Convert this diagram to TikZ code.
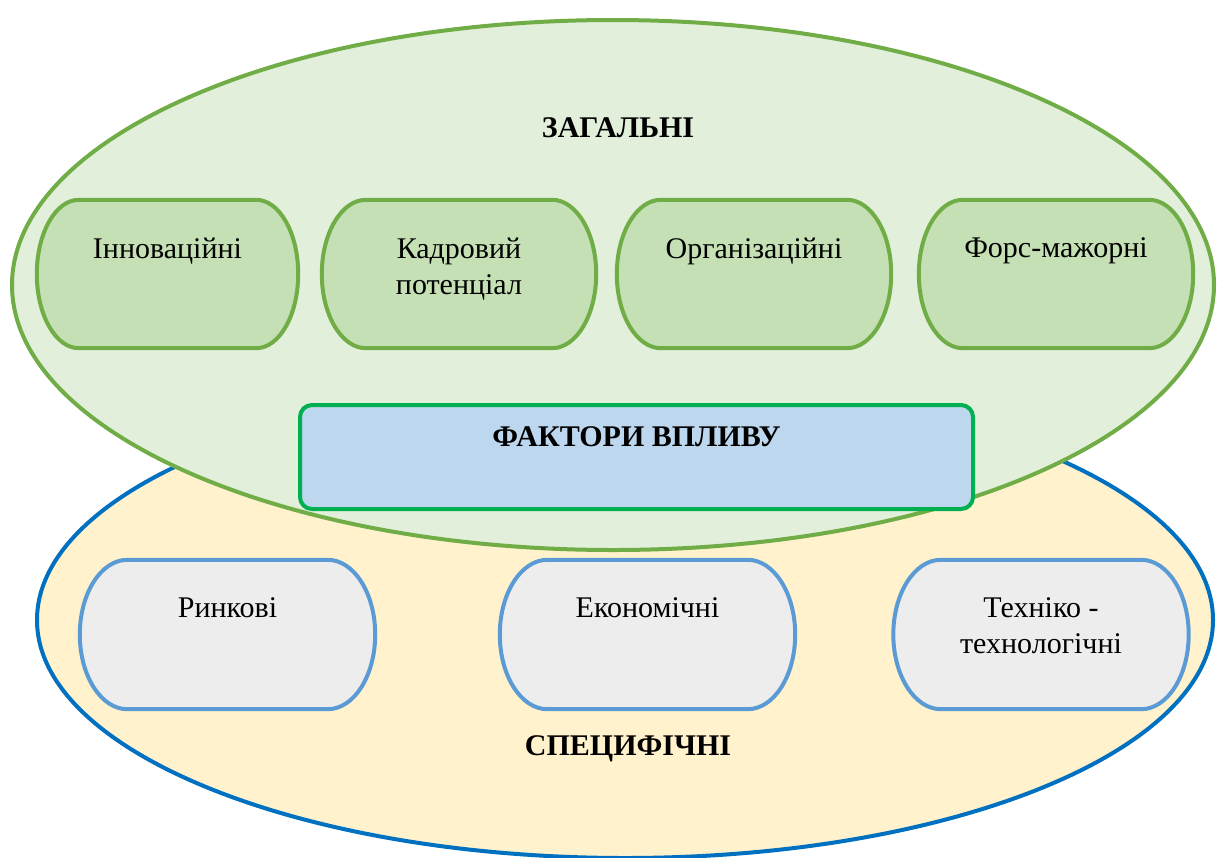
\documentclass[tikz,border=0pt]{standalone}
\usepackage{fontspec}
\setmainfont{Liberation Serif}
\usetikzlibrary{positioning,calc}
\definecolor{zahfill}{HTML}{E2EFDA}
\definecolor{zahline}{HTML}{70AD47}
\definecolor{zahboxfill}{HTML}{C5E0B4}
\definecolor{specfill}{HTML}{FFF2CC}
\definecolor{specline}{HTML}{0070C0}
\definecolor{specboxfill}{HTML}{EDEDED}
\definecolor{specboxline}{HTML}{5B9BD5}
\definecolor{faktfill}{HTML}{BDD7EE}
\definecolor{faktline}{HTML}{00B050}
\pgfdeclarelayer{back}
\pgfdeclarelayer{mid}
\pgfsetlayers{back,mid,main}
% terminator outline round a named node
\newcommand{\terminator}[2]{%
  \begin{pgfonlayer}{mid}
  \path[line width=4pt, #2] let \p1=(#1.north west), \p2=(#1.south east),
      \n1={0.161*(\x2-\x1)}, \n2={(\y1-\y2)/2} in
    (\x1+\n1,\y1) -- (\x2-\n1,\y1)
    arc[start angle=90, end angle=-90, x radius=\n1, y radius=\n2]
    -- (\x1+\n1,\y2)
    arc[start angle=270, end angle=90, x radius=\n1, y radius=\n2] -- cycle;
  \end{pgfonlayer}}

\begin{document}
\begin{tikzpicture}[x=1pt, y=1pt,
    font=\fontsize{30}{36}\selectfont,
    zahbox/.style={minimum width=#1, minimum height=148, inner sep=0pt},
    specbox/.style={minimum width=#1, minimum height=149, inner sep=0pt},
    boxtext/.style={label={[anchor=north, yshift=-38pt, inner sep=0pt, align=center]north:#1}},
    titletext/.style={anchor=base, inner sep=0pt, font=\fontsize{30}{36}\selectfont\bfseries}]
    \useasboundingbox (0,0) rectangle (1217,-857);

    % the two fields
    \begin{pgfonlayer}{back}
        \draw[line width=4pt, specline, fill=specfill] (625,-620) ellipse [x radius=588, y radius=238];
        \draw[line width=4pt, zahline, fill=zahfill] (613,-285) ellipse [x radius=601, y radius=265];
    \end{pgfonlayer}

    \node[titletext] (zah) at (618,-137) {ЗАГАЛЬНІ};
    \node[zahbox=261, boxtext=Інноваційні] (innov) at (167.5,-274) {};
    \node[zahbox=274, boxtext={Кадровий\\потенціал}] (kadr) at (459,-274) {};
    \node[zahbox=274, boxtext=Організаційні] (org) at (754,-274) {};
    \node[zahbox=274, boxtext=Форс-мажорні] (fors) at (1056,-274) {};

    \node[draw=faktline, fill=faktfill, line width=4pt, rounded corners=12pt, minimum width=673,
        minimum height=104, inner sep=0pt,
        label={[anchor=north, yshift=-23pt, inner sep=0pt, font=\fontsize{30}{36}\selectfont\bfseries]north:ФАКТОРИ ВПЛИВУ}]
        (fakt) at (636.5,-457) {};

    \node[specbox=295, boxtext=Ринкові] (rynk) at (227.5,-634.5) {};
    \node[specbox=295, boxtext=Економічні] (ekon) at (647.5,-634.5) {};
    \node[specbox=295, boxtext={Техніко -\\технологічні}] (tekhn) at (1041,-634.5) {};
    \node[titletext] (spec) at (628,-755) {СПЕЦИФІЧНІ};

    \foreach \b in {innov,kadr,org,fors}
        \terminator{\b}{draw=zahline, fill=zahboxfill};
    \foreach \b in {rynk,ekon,tekhn}
        \terminator{\b}{draw=specboxline, fill=specboxfill};
\end{tikzpicture}
\end{document}
